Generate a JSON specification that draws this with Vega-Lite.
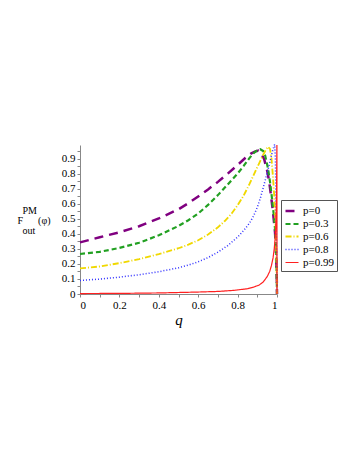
{
  "$schema": "https://vega.github.io/schema/vega-lite/v6.json",
  "width": 197,
  "height": 149,
  "autosize": {"type": "none"},
  "padding": {"left": 80, "top": 145, "right": 83, "bottom": 172},
  "background": "white",
  "config": {
    "view": {"stroke": null},
    "font": "Liberation Serif, Times New Roman, DejaVu Serif, serif",
    "axis": {"labelFont": "Liberation Serif, Times New Roman, DejaVu Serif, serif", "titleFont": "Liberation Serif, Times New Roman, DejaVu Serif, serif", "labelColor": "black", "titleColor": "black", "domainColor": "#888", "tickColor": "#888", "grid": false},
    "legend": {"labelFont": "Liberation Serif, Times New Roman, DejaVu Serif, serif", "symbolType": "stroke"}
  },
  "data": {"values": [
    {"p":"p=0","q":0,"F":0.343},{"p":"p=0","q":0.1,"F":0.377},{"p":"p=0","q":0.2,"F":0.41},{"p":"p=0","q":0.3,"F":0.45},{"p":"p=0","q":0.4,"F":0.502},{"p":"p=0","q":0.5,"F":0.563},{"p":"p=0","q":0.55,"F":0.603},{"p":"p=0","q":0.6,"F":0.648},{"p":"p=0","q":0.65,"F":0.695},{"p":"p=0","q":0.7,"F":0.745},{"p":"p=0","q":0.75,"F":0.8},{"p":"p=0","q":0.8,"F":0.857},{"p":"p=0","q":0.84,"F":0.905},{"p":"p=0","q":0.87,"F":0.935},{"p":"p=0","q":0.89,"F":0.948},{"p":"p=0","q":0.905,"F":0.952},{"p":"p=0","q":0.92,"F":0.935},{"p":"p=0","q":0.935,"F":0.895},{"p":"p=0","q":0.95,"F":0.82},{"p":"p=0","q":0.96,"F":0.75},{"p":"p=0","q":0.97,"F":0.65},{"p":"p=0","q":0.98,"F":0.54},{"p":"p=0","q":0.99,"F":0.41},{"p":"p=0","q":0.995,"F":0.27},{"p":"p=0","q":0.999,"F":0.09},{"p":"p=0","q":1,"F":0},
    {"p":"p=0.3","q":0,"F":0.266},{"p":"p=0.3","q":0.1,"F":0.28},{"p":"p=0.3","q":0.2,"F":0.306},{"p":"p=0.3","q":0.3,"F":0.34},{"p":"p=0.3","q":0.4,"F":0.39},{"p":"p=0.3","q":0.5,"F":0.452},{"p":"p=0.3","q":0.55,"F":0.49},{"p":"p=0.3","q":0.6,"F":0.535},{"p":"p=0.3","q":0.65,"F":0.592},{"p":"p=0.3","q":0.7,"F":0.657},{"p":"p=0.3","q":0.75,"F":0.728},{"p":"p=0.3","q":0.8,"F":0.8},{"p":"p=0.3","q":0.83,"F":0.85},{"p":"p=0.3","q":0.86,"F":0.903},{"p":"p=0.3","q":0.88,"F":0.935},{"p":"p=0.3","q":0.9,"F":0.955},{"p":"p=0.3","q":0.915,"F":0.962},{"p":"p=0.3","q":0.93,"F":0.95},{"p":"p=0.3","q":0.94,"F":0.92},{"p":"p=0.3","q":0.955,"F":0.83},{"p":"p=0.3","q":0.965,"F":0.74},{"p":"p=0.3","q":0.975,"F":0.63},{"p":"p=0.3","q":0.985,"F":0.51},{"p":"p=0.3","q":0.992,"F":0.4},{"p":"p=0.3","q":0.997,"F":0.2},{"p":"p=0.3","q":1,"F":0},
    {"p":"p=0.6","q":0,"F":0.17},{"p":"p=0.6","q":0.1,"F":0.183},{"p":"p=0.6","q":0.2,"F":0.205},{"p":"p=0.6","q":0.3,"F":0.232},{"p":"p=0.6","q":0.4,"F":0.265},{"p":"p=0.6","q":0.5,"F":0.304},{"p":"p=0.6","q":0.55,"F":0.328},{"p":"p=0.6","q":0.6,"F":0.357},{"p":"p=0.6","q":0.65,"F":0.395},{"p":"p=0.6","q":0.7,"F":0.443},{"p":"p=0.6","q":0.735,"F":0.485},{"p":"p=0.6","q":0.77,"F":0.535},{"p":"p=0.6","q":0.8,"F":0.59},{"p":"p=0.6","q":0.83,"F":0.652},{"p":"p=0.6","q":0.86,"F":0.73},{"p":"p=0.6","q":0.89,"F":0.815},{"p":"p=0.6","q":0.91,"F":0.87},{"p":"p=0.6","q":0.93,"F":0.925},{"p":"p=0.6","q":0.945,"F":0.962},{"p":"p=0.6","q":0.955,"F":0.978},{"p":"p=0.6","q":0.965,"F":0.962},{"p":"p=0.6","q":0.972,"F":0.9},{"p":"p=0.6","q":0.98,"F":0.77},{"p":"p=0.6","q":0.986,"F":0.65},{"p":"p=0.6","q":0.992,"F":0.5},{"p":"p=0.6","q":0.996,"F":0.3},{"p":"p=0.6","q":0.999,"F":0.1},{"p":"p=0.6","q":1,"F":0},
    {"p":"p=0.8","q":0,"F":0.09},{"p":"p=0.8","q":0.1,"F":0.099},{"p":"p=0.8","q":0.2,"F":0.112},{"p":"p=0.8","q":0.3,"F":0.128},{"p":"p=0.8","q":0.4,"F":0.148},{"p":"p=0.8","q":0.5,"F":0.174},{"p":"p=0.8","q":0.55,"F":0.192},{"p":"p=0.8","q":0.6,"F":0.214},{"p":"p=0.8","q":0.65,"F":0.242},{"p":"p=0.8","q":0.7,"F":0.278},{"p":"p=0.8","q":0.75,"F":0.322},{"p":"p=0.8","q":0.8,"F":0.378},{"p":"p=0.8","q":0.83,"F":0.42},{"p":"p=0.8","q":0.86,"F":0.47},{"p":"p=0.8","q":0.88,"F":0.515},{"p":"p=0.8","q":0.9,"F":0.575},{"p":"p=0.8","q":0.915,"F":0.635},{"p":"p=0.8","q":0.93,"F":0.705},{"p":"p=0.8","q":0.945,"F":0.78},{"p":"p=0.8","q":0.96,"F":0.855},{"p":"p=0.8","q":0.97,"F":0.91},{"p":"p=0.8","q":0.98,"F":0.963},{"p":"p=0.8","q":0.988,"F":0.993},{"p":"p=0.8","q":0.992,"F":0.9},{"p":"p=0.8","q":0.995,"F":0.6},{"p":"p=0.8","q":0.998,"F":0.25},{"p":"p=0.8","q":1,"F":0},
    {"p":"p=0.99","q":0,"F":0.003},{"p":"p=0.99","q":0.2,"F":0.004},{"p":"p=0.99","q":0.4,"F":0.007},{"p":"p=0.99","q":0.5,"F":0.01},{"p":"p=0.99","q":0.6,"F":0.013},{"p":"p=0.99","q":0.7,"F":0.017},{"p":"p=0.99","q":0.78,"F":0.024},{"p":"p=0.99","q":0.85,"F":0.035},{"p":"p=0.99","q":0.88,"F":0.045},{"p":"p=0.99","q":0.91,"F":0.06},{"p":"p=0.99","q":0.93,"F":0.08},{"p":"p=0.99","q":0.95,"F":0.115},{"p":"p=0.99","q":0.963,"F":0.15},{"p":"p=0.99","q":0.972,"F":0.19},{"p":"p=0.99","q":0.98,"F":0.24},{"p":"p=0.99","q":0.986,"F":0.3},{"p":"p=0.99","q":0.99,"F":0.36},{"p":"p=0.99","q":0.993,"F":0.42},{"p":"p=0.99","q":0.996,"F":0.55},{"p":"p=0.99","q":0.998,"F":0.72},{"p":"p=0.99","q":0.9995,"F":0.99},{"p":"p=0.99","q":1,"F":0}
  ]},
  "mark": {"type": "line", "clip": false},
  "encoding": {
    "x": {"field": "q", "type": "quantitative", "scale": {"domain": [0, 1], "nice": false, "zero": false},
      "axis": {"values": [0,0.1,0.2,0.3,0.4,0.5,0.6,0.7,0.8,0.9,1], "format": "~g", "labelExpr": "round(datum.value*10) % 2 == 0 ? datum.label : ''", "tickSize": 3, "labelFontSize": 11, "labelPadding": 2, "title": "q", "titleFontSize": 15, "titleFontStyle": "italic", "titleFontWeight": "normal", "titlePadding": 2}},
    "y": {"field": "F", "type": "quantitative", "scale": {"domain": [0, 0.99], "nice": false},
      "axis": {"values": [0,0.05,0.1,0.15,0.2,0.25,0.3,0.35,0.4,0.45,0.5,0.55,0.6,0.65,0.7,0.75,0.8,0.85,0.9,0.95], "format": "~g", "labelExpr": "round(datum.value*20) % 2 == 0 ? datum.label : ''", "tickSize": 3, "labelFontSize": 11, "labelPadding": 2,
        "title": ["\u200b\u00a0\u00a0PM", "F\u00a0\u00a0\u00a0\u00a0\u00a0\u00a0(φ)", "\u200b\u00a0\u00a0out"], "titleAngle": 0, "titleAlign": "left", "titleBaseline": "alphabetic", "titleX": -63, "titleY": 68, "titleLineHeight": 10, "titleFontSize": 10, "titleFontWeight": "normal"}},
    "color": {"field": "p", "type": "nominal", "scale": {"domain": ["p=0","p=0.3","p=0.6","p=0.8","p=0.99"], "range": ["#800080","#22a022","#f0d800","#3333ff","#ff2020"]},
      "legend": {"orient": "none", "legendX": 201, "legendY": 55, "title": null, "strokeColor": "#555", "padding": 3, "symbolType": "stroke", "symbolSize": 169, "symbolStrokeWidth": 2, "labelFontSize": 11, "rowPadding": -1, "labelOffset": 3}},
    "strokeDash": {"field": "p", "type": "nominal", "scale": {"domain": ["p=0","p=0.3","p=0.6","p=0.8","p=0.99"], "range": [[9,6],[5,3],[6,2,1,2],[1,2],[1,0]]},
      "legend": {"orient": "none", "legendX": 201, "legendY": 55, "title": null, "strokeColor": "#555", "padding": 3, "symbolType": "stroke", "symbolSize": 169, "symbolStrokeWidth": 2, "labelFontSize": 11, "rowPadding": -1, "labelOffset": 3}},
    "strokeWidth": {"field": "p", "type": "nominal", "scale": {"domain": ["p=0","p=0.3","p=0.6","p=0.8","p=0.99"], "range": [2.5,1.2,1.2,1.3,1.2]}, "legend": null}
  }
}
